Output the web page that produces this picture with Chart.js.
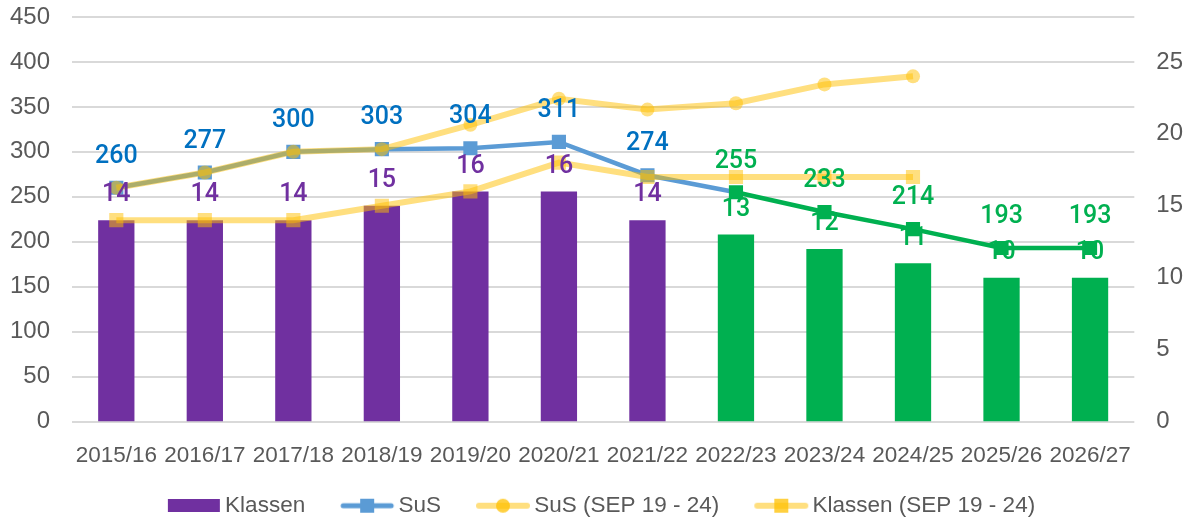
<!DOCTYPE html>
<html lang="de">
<head>
<meta charset="UTF-8">
<title>Klassen und SuS</title>
<script src="https://cdn.jsdelivr.net/npm/chart.js"></script>
<style>
  body { margin: 0; background: #fff; }
  #wrap { width: 1193px; height: 518px; }
</style>
</head>
<body>
<div id="wrap"><canvas id="chart"></canvas></div>
<script>
const years = ['2015/16', '2016/17', '2017/18', '2018/19', '2019/20', '2020/21',
               '2021/22', '2022/23', '2023/24', '2024/25', '2025/26', '2026/27'];
const klassen = [14, 14, 14, 15, 16, 16, 14, 13, 12, 11, 10, 10];
const sus = [260, 277, 300, 303, 304, 311, 274, 255, 233, 214, 193, 193];
const susSep = [260, 277, 300, 303, 330, 359, 347, 354, 375, 384, null, null];
const klassenSep = [14, 14, 14, 15, 16, 18, 17, 17, 17, 17, null, null];
const firstForecast = 7; // ab 2022/23 in grün

const PURPLE = '#7030A0';
const GREEN = '#00B050';
const BLUE = '#5B9BD5';
const BLUE_TEXT = '#0070C0';
const YELLOW = 'rgba(255, 192, 0, 0.5)';
const GREY = '#595959';
const FONT = "'Liberation Sans', Arial, sans-serif";
const GAP = 30;             // Luft vor jedem Legendensymbol
const ICON_W = GAP + 56;    // Breite der Symbol-Canvas

const byPhase = (a, b) => years.map((_, i) => i < firstForecast ? a : b);

// kleine Legendensymbole: Linie mit Marker
function legendIcon(line, lineW, marker, fill) {
  const c = document.createElement('canvas');
  c.width = ICON_W; c.height = 16;
  const g = c.getContext('2d');
  g.translate(GAP, 0);
  g.strokeStyle = line; g.lineWidth = lineW; g.lineCap = 'round';
  g.beginPath(); g.moveTo(4, 8); g.lineTo(52, 8); g.stroke();
  g.fillStyle = fill;
  if (marker === 'rect') {
    g.fillRect(21, 1, 14, 14);
  } else {
    g.beginPath(); g.arc(28, 8, 7, 0, Math.PI * 2); g.fill();
  }
  return c;
}
function legendBox(color) {
  const c = document.createElement('canvas');
  c.width = ICON_W; c.height = 13;
  const g = c.getContext('2d');
  g.fillStyle = color; g.fillRect(GAP + 2, 0, 52, 13);
  return c;
}

const valueLabels = {
  id: 'valueLabels',
  afterDatasetsDraw(chart) {
    const ctx = chart.ctx;
    ctx.save();
    ctx.font = "500 25px Roboto, sans-serif";
    ctx.textAlign = 'center';
    ctx.textBaseline = 'middle';
    chart.data.datasets.forEach((ds, i) => {
      if (!ds.labelColors) return;
      const meta = chart.getDatasetMeta(i);
      meta.data.forEach((el, j) => {
        if (ds.data[j] == null) return;
        ctx.fillStyle = ds.labelColors[j];
        ctx.fillText(ds.data[j], el.x, el.y + ds.labelShift);
      });
    });
    ctx.restore();
  }
};

// Legende etwas nach links, die leere Fläche vor dem ersten Symbol ausgleichen
const legendShift = {
  id: 'legendShift',
  afterLayout(chart) {
    chart.legend.left -= 7;
    chart.legend.right -= 7;
  }
};

// y-Achsen: Abstand zur Beschriftung nur horizontal, nicht oben/unten
const trimPad = s => { s.paddingTop = 17; s.paddingBottom = 12; };

new Chart(document.getElementById('chart'), {
  data: {
    labels: years,
    datasets: [
      {
        type: 'bar',
        label: 'Klassen',
        data: klassen,
        yAxisID: 'y1',
        backgroundColor: byPhase(PURPLE, GREEN),
        barPercentage: 0.41,
        categoryPercentage: 1,
        order: 4,
        labelColors: byPhase(PURPLE, GREEN),
        labelShift: -25
      },
      {
        type: 'line',
        label: 'SuS',
        data: sus,
        yAxisID: 'y',
        borderColor: BLUE,
        borderWidth: 4.5,
        segment: {
          borderColor: c => c.p0DataIndex >= firstForecast ? GREEN : BLUE
        },
        pointStyle: 'rect',
        pointRadius: 10,
        pointBorderWidth: 0,
        pointBackgroundColor: byPhase(BLUE, GREEN),
        order: 3,
        labelColors: byPhase(BLUE_TEXT, GREEN),
        labelShift: -31
      },
      {
        type: 'line',
        label: 'Klassen (SEP 19 - 24)',
        data: klassenSep,
        yAxisID: 'y1',
        borderColor: YELLOW,
        borderWidth: 6,
        pointStyle: 'rect',
        pointRadius: 10,
        pointBorderWidth: 0,
        pointBackgroundColor: YELLOW,
        order: 2
      },
      {
        type: 'line',
        label: 'SuS (SEP 19 - 24)',
        data: susSep,
        yAxisID: 'y',
        borderColor: YELLOW,
        borderWidth: 6,
        pointStyle: 'circle',
        pointRadius: 7,
        pointBorderWidth: 0,
        pointBackgroundColor: YELLOW,
        order: 1
      }
    ]
  },
  options: {
    responsive: true,
    maintainAspectRatio: false,
    animation: false,
    layout: { padding: { left: -12, right: -12, top: 0, bottom: -9 } },
    scales: {
      x: {
        grid: { display: false },
        border: { display: false },
        ticks: { color: GREY, font: { family: FONT, size: 22.5 }, padding: 13, maxRotation: 0 }
      },
      y: {
        position: 'left',
        min: 0, max: 450,
        afterFit: trimPad,
        ticks: { stepSize: 50, color: GREY, font: { family: FONT, size: 24 }, padding: 22 },
        grid: { color: '#D9D9D9', lineWidth: 2, drawTicks: false },
        border: { display: false }
      },
      y1: {
        position: 'right',
        min: 0, max: 28.125,
        afterFit: trimPad,
        afterBuildTicks: s => { s.ticks = s.ticks.filter(t => t.value % 5 === 0); },
        ticks: { stepSize: 5, color: GREY, font: { family: FONT, size: 24 }, padding: 22 },
        grid: { display: false, drawTicks: false },
        border: { display: false }
      }
    },
    plugins: {
      tooltip: { enabled: false },
      legend: {
        position: 'bottom',
        labels: {
          color: GREY,
          font: { family: FONT, size: 22.5 },
          usePointStyle: true,
          pointStyleWidth: ICON_W - 16,
          padding: 12,
          generateLabels: () => [
            { text: 'Klassen', pointStyle: legendBox(PURPLE), fontColor: GREY, lineWidth: 0, strokeStyle: 'transparent' },
            { text: 'SuS', pointStyle: legendIcon(BLUE, 5, 'rect', BLUE), fontColor: GREY, lineWidth: 0, strokeStyle: 'transparent' },
            { text: 'SuS (SEP 19 - 24)', pointStyle: legendIcon('rgba(255,192,0,0.5)', 6, 'circle', 'rgba(255,192,0,0.75)'), fontColor: GREY, lineWidth: 0, strokeStyle: 'transparent' },
            { text: 'Klassen (SEP 19 - 24)', pointStyle: legendIcon('rgba(255,192,0,0.5)', 6, 'rect', 'rgba(255,192,0,0.75)'), fontColor: GREY, lineWidth: 0, strokeStyle: 'transparent' }
          ]
        }
      }
    }
  },
  plugins: [valueLabels, legendShift]
});
</script>
</body>
</html>
